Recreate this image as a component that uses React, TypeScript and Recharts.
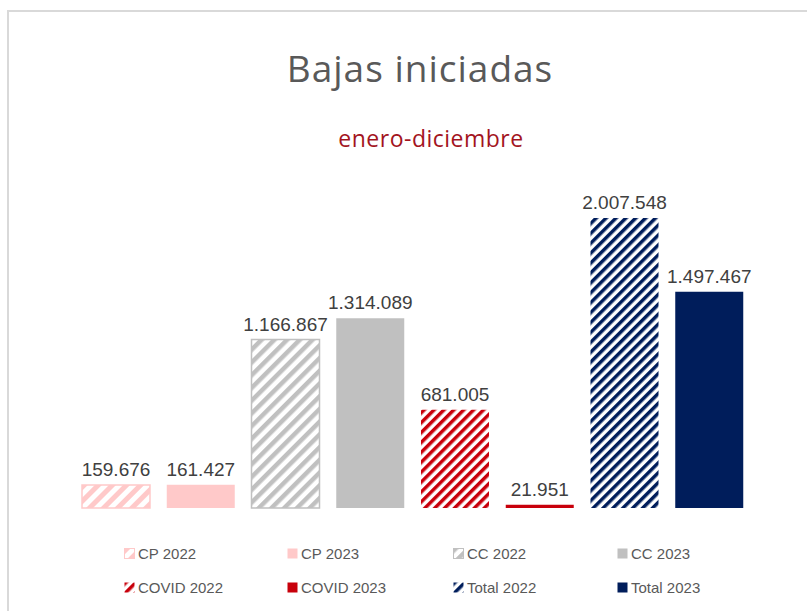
import { BarChart, Bar, XAxis, YAxis, Cell, LabelList } from 'recharts';

const CATEGORIES = ['CP 2022', 'CP 2023', 'CC 2022', 'CC 2023', 'COVID 2022', 'COVID 2023', 'Total 2022', 'Total 2023'];
const VALUES = [159676, 161427, 1166867, 1314089, 681005, 21951, 2007548, 1497467];
const COLORS = ['#ffc9c9', '#ffc9c9', '#c0c0c0', '#c0c0c0', '#c8000b', '#c8000b', '#001d5b', '#001d5b'];
const HATCHED = [true, false, true, false, true, false, true, false];
const HATCH_SIZE = [10, 0, 9, 0, 7, 0, 7, 0];

const fmt = (v: number) => v.toString().replace(/\B(?=(\d{3})+(?!\d))/g, '.');

const data = CATEGORIES.map((name, i) => ({ name, value: VALUES[i] }));

const fillFor = (i: number) => (HATCHED[i] ? `url(#hatch-${i})` : COLORS[i]);

function Patterns() {
  return (
    <defs>
      {CATEGORIES.map((_, i) =>
        HATCHED[i] ? (
          <pattern
            key={i}
            id={`hatch-${i}`}
            patternUnits="userSpaceOnUse"
            width={HATCH_SIZE[i]}
            height={HATCH_SIZE[i]}
            patternTransform="rotate(45)"
          >
            <rect width={HATCH_SIZE[i]} height={HATCH_SIZE[i]} fill="#ffffff" />
            <rect width={HATCH_SIZE[i] / 2} height={HATCH_SIZE[i]} fill={COLORS[i]} />
          </pattern>
        ) : null
      )}
    </defs>
  );
}

const LEGEND_X = [124, 287, 453, 617];
const LEGEND_Y = [553, 587];

export default function App() {
  return (
    <div style={{ position: 'absolute', left: 0, top: 0, width: 807, height: 611, overflow: 'hidden', background: '#fff', fontFamily: '"Liberation Sans", sans-serif' }}>
      <div style={{ position: 'absolute', left: 7, top: 10, width: 840, height: 640, border: '2px solid #d9d9d9' }} />
      <div style={{ position: 'absolute', left: 0, top: 42, width: 840, textAlign: 'center', fontFamily: '"Open Sans", sans-serif', fontSize: 37, color: '#595959', letterSpacing: 1 }}>
        Bajas iniciadas
      </div>
      <div style={{ position: 'absolute', left: 0, top: 122, width: 862, textAlign: 'center', fontFamily: '"Open Sans", sans-serif', fontSize: 23, color: '#a3141e', letterSpacing: 0.5 }}>
        enero-diciembre
      </div>
      <div style={{ position: 'absolute', left: 0, top: 0 }}>
        <BarChart width={807} height={611} data={data} margin={{ top: 147, right: 55, bottom: 103, left: 74 }}>
          <Patterns />
          <XAxis dataKey="name" hide />
          <YAxis domain={[0, 2500000]} hide />
          <Bar dataKey="value" barSize={68} isAnimationActive={false}>
            {data.map((_, i) => (
              <Cell key={i} fill={fillFor(i)} stroke={HATCHED[i] && i < 4 ? COLORS[i] : 'none'} strokeWidth={1.5} />
            ))}
            <LabelList dataKey="value" position="top" offset={9} formatter={(v: any) => fmt(Number(v))} style={{ fontSize: 19, fill: '#404040', fontFamily: '"Liberation Sans", sans-serif' }} />
          </Bar>
        </BarChart>
      </div>
      {CATEGORIES.map((name, i) => (
        <div key={name} style={{ position: 'absolute', left: LEGEND_X[i % 4], top: LEGEND_Y[Math.floor(i / 4)] - 10, height: 20, display: 'flex', alignItems: 'center', fontSize: 15, color: '#595959' }}>
          <svg width={11} height={11} style={{ marginRight: 3 }}>
            <rect x={0.5} y={0.5} width={10} height={10} fill={fillFor(i)} stroke={HATCHED[i] && i < 4 ? COLORS[i] : 'none'} />
          </svg>
          {name}
        </div>
      ))}
    </div>
  );
}
